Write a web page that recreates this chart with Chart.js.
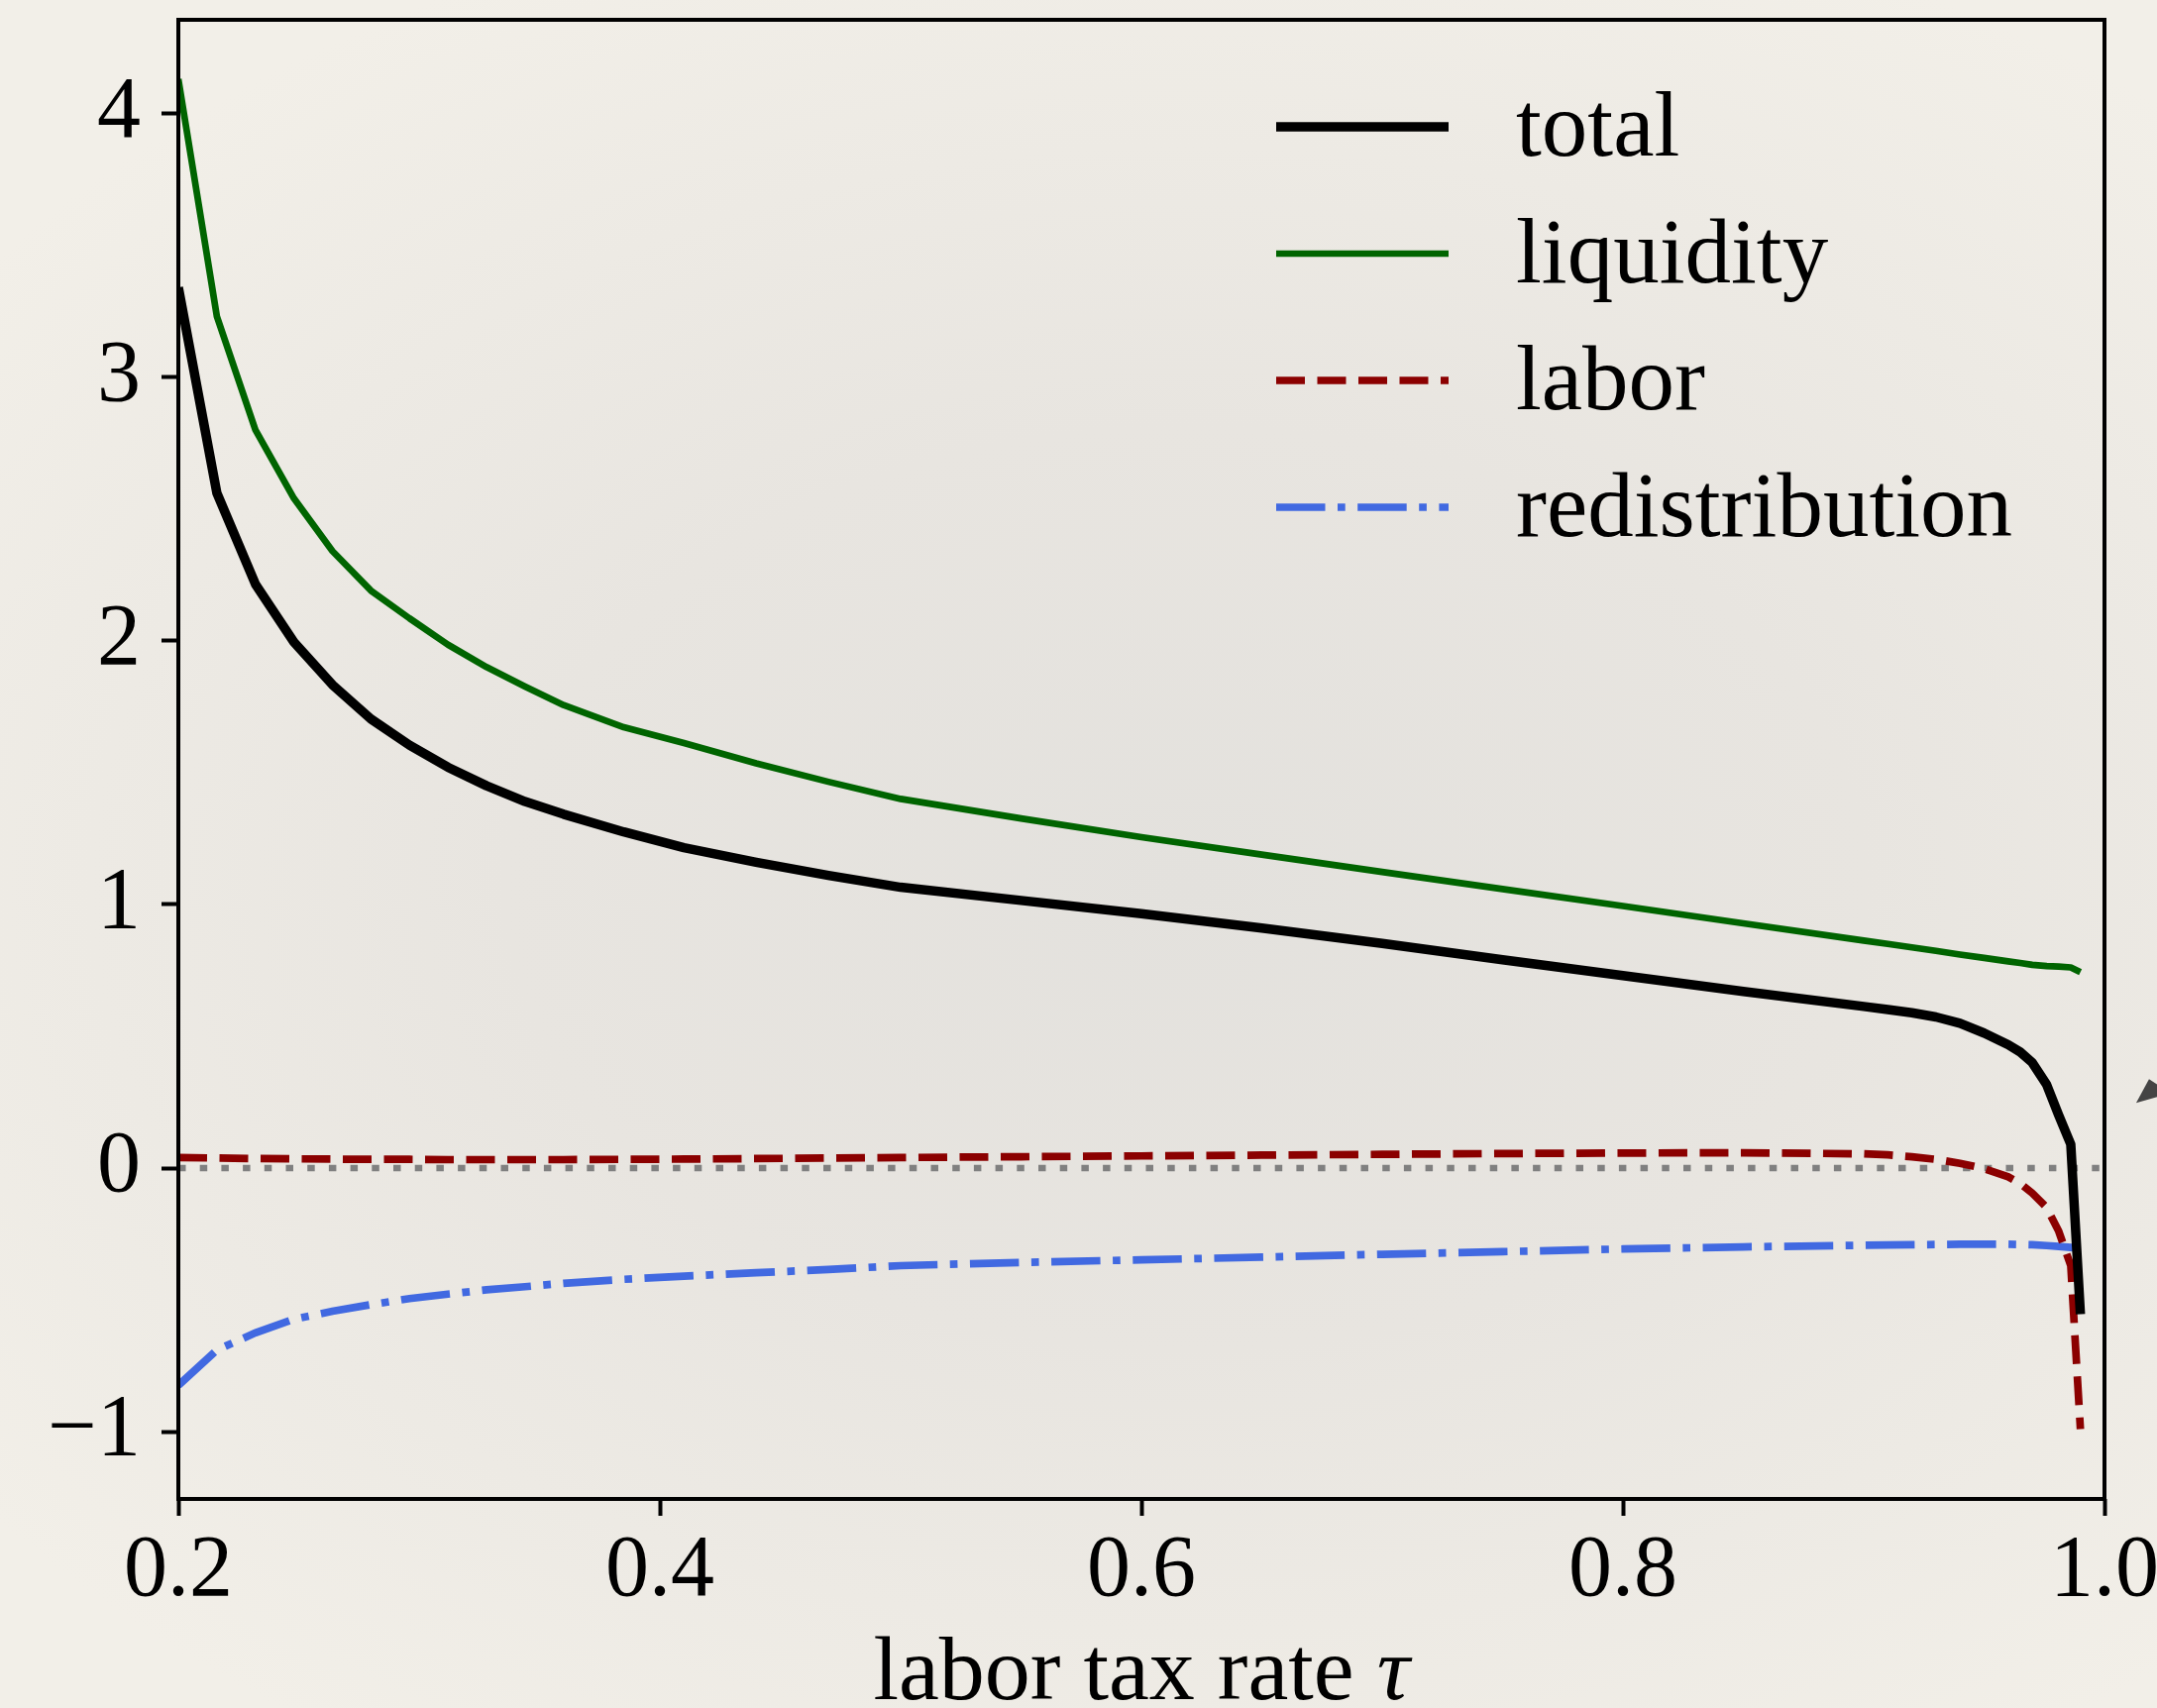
<!DOCTYPE html>
<html>
<head>
<meta charset="utf-8">
<script src="https://cdn.jsdelivr.net/npm/chart.js@4.4.1/dist/chart.umd.min.js"></script>
<style>
  html, body { margin: 0; padding: 0; overflow: hidden; }
  body {
    width: 2177px; height: 1724px;
    background: radial-gradient(ellipse 70% 60% at 55% 52%, #e3e1dd 0%, #e8e5e0 45%, #f2efe8 100%);
  }
  canvas { display: block; }
</style>
</head>
<body>
<canvas id="chart" width="2177" height="1724"></canvas>
<script>
/************** data ****************/
const tau = [0.2, 0.216, 0.232, 0.248, 0.264, 0.28, 0.296, 0.312, 0.328, 0.344, 0.36, 0.385, 0.41, 0.44, 0.47,
    0.5, 0.55, 0.6, 0.65, 0.7, 0.75, 0.8, 0.85, 0.9, 0.91, 0.92, 0.93, 0.94, 0.95, 0.96, 0.965, 0.97, 0.976, 0.981, 0.986, 0.99];

const total = [3.34, 2.56, 2.215, 1.995, 1.833, 1.703, 1.604, 1.52, 1.45, 1.39, 1.342, 1.275, 1.215, 1.16, 1.11,
    1.065, 1.015, 0.965, 0.91, 0.852, 0.79, 0.73, 0.67, 0.613, 0.601, 0.589, 0.573, 0.549, 0.512, 0.468, 0.44, 0.40, 0.316, 0.2, 0.09, -0.554];

const liquidity = [4.13, 3.23, 2.80, 2.54, 2.34, 2.19, 2.085, 1.985, 1.90, 1.826, 1.756, 1.672, 1.612, 1.535, 1.465,
    1.40, 1.326, 1.255, 1.189, 1.123, 1.058, 0.994, 0.928, 0.863, 0.85, 0.837, 0.824, 0.81, 0.797, 0.784, 0.778, 0.771, 0.766, 0.764, 0.761, 0.743];

const labor = [0.04, 0.038, 0.036, 0.035, 0.034, 0.033, 0.033, 0.032, 0.032, 0.032, 0.032, 0.033, 0.034, 0.036, 0.038,
    0.04, 0.043, 0.046, 0.049, 0.052, 0.055, 0.057, 0.058, 0.054, 0.05, 0.043, 0.033, 0.018, -0.002, -0.033, -0.058, -0.095, -0.15, -0.24, -0.37, -0.99];

const redistribution = [-0.824, -0.69, -0.625, -0.573, -0.543, -0.518, -0.495, -0.478, -0.462, -0.45, -0.437, -0.422, -0.41, -0.397, -0.385,
    -0.37, -0.358, -0.348, -0.338, -0.327, -0.317, -0.307, -0.299, -0.293, -0.292, -0.291, -0.29, -0.289, -0.289, -0.289, -0.29, -0.291, -0.294, -0.297, -0.301, -0.305];

const zeroLineX = [0.2, 1.0];
const zeroLineY = [0, 0];

// tip of the clipped arrowhead poking in from the right edge
const arrowX = [1.0185];
const arrowY = [0.337];

const xTicks = [0.2, 0.4, 0.6, 0.8, 1.0];
const yTicks = [-1, 0, 1, 2, 3, 4];

function toPoints(xs, ys) {
    return xs.map((x, i) => ({ x: x, y: ys[i] }));
}

/************** plugins ****************/
const serif = "'Liberation Serif', 'DejaVu Serif', serif";

const framePlugin = {
    id: "frame",
    afterDatasetsDraw(chart) {
        const { ctx, chartArea } = chart;
        ctx.save();
        ctx.strokeStyle = "#000";
        ctx.lineWidth = 4;
        ctx.setLineDash([]);
        ctx.strokeRect(chartArea.left, chartArea.top, chartArea.right - chartArea.left, chartArea.bottom - chartArea.top);
        ctx.restore();
    }
};

const arrowPlugin = {
    id: "arrowHead",
    afterDraw(chart) {
        const { ctx, scales } = chart;
        ctx.save();
        ctx.fillStyle = "#444444";
        arrowX.forEach((v, i) => {
            const px = scales.x.getPixelForValue(v);
            const py = scales.y.getPixelForValue(arrowY[i]);
            ctx.beginPath();
            ctx.moveTo(px, py);
            ctx.lineTo(px - 13, py + 24);
            ctx.lineTo(px + 22, py + 14);
            ctx.closePath();
            ctx.fill();
        });
        ctx.restore();
    }
};

const legendPlugin = {
    id: "paperLegend",
    afterDraw(chart) {
        const { ctx, chartArea } = chart;
        const lineStart = chartArea.left + 1108;
        const lineEnd = chartArea.left + 1282;
        const textX = chartArea.left + 1350;
        ctx.save();
        chart.data.datasets.slice(0, 4).forEach((ds, i) => {
            const y = chartArea.top + 108 + i * 128;
            ctx.beginPath();
            ctx.strokeStyle = ds.borderColor;
            ctx.lineWidth = ds.borderWidth;
            ctx.lineCap = "butt";
            ctx.setLineDash(ds.borderDash || []);
            ctx.moveTo(lineStart, y);
            ctx.lineTo(lineEnd, y);
            ctx.stroke();

            ctx.setLineDash([]);
            ctx.fillStyle = "#000";
            ctx.font = "93px " + serif;
            ctx.textAlign = "left";
            ctx.textBaseline = "alphabetic";
            ctx.fillText(ds.label, textX, y + 29);
        });
        ctx.restore();
    }
};

const xTitlePlugin = {
    id: "xTitle",
    afterDraw(chart) {
        const { ctx, chartArea } = chart;
        const plain = "labor tax rate ";
        const greek = "τ";
        ctx.save();
        ctx.fillStyle = "#000";
        ctx.textBaseline = "alphabetic";
        ctx.textAlign = "left";
        ctx.font = "92px " + serif;
        const w1 = ctx.measureText(plain).width;
        ctx.font = "italic 92px " + serif;
        const w2 = ctx.measureText(greek).width;
        const cx = (chartArea.left + chartArea.right) / 2;
        const x0 = cx - (w1 + w2) / 2;
        const y = chartArea.bottom + 202;
        ctx.font = "92px " + serif;
        ctx.fillText(plain, x0, y);
        ctx.font = "italic 92px " + serif;
        ctx.fillText(greek, x0 + w1, y);
        ctx.restore();
    }
};

/************** chart ****************/
const data = {
    datasets: [
        {
            label: "total",
            data: toPoints(tau, total),
            borderColor: "#000000",
            borderWidth: 9.5,
            borderJoinStyle: "round",
            pointRadius: 0,
            tension: 0
        },
        {
            label: "liquidity",
            data: toPoints(tau, liquidity),
            borderColor: "#006400",
            borderWidth: 6.7,
            borderJoinStyle: "round",
            pointRadius: 0,
            tension: 0
        },
        {
            label: "labor",
            data: toPoints(tau, labor),
            borderColor: "#8b0000",
            borderWidth: 7.7,
            borderDash: [29, 12.5],
            pointRadius: 0,
            tension: 0
        },
        {
            label: "redistribution",
            data: toPoints(tau, redistribution),
            borderColor: "#4169e1",
            borderWidth: 7.7,
            borderDash: [49.5, 12.5, 7.7, 12.5],
            pointRadius: 0,
            tension: 0
        },
        {
            label: "zero",
            data: toPoints(zeroLineX, zeroLineY),
            borderColor: "#808080",
            borderWidth: 6.7,
            borderDash: [7.5, 14.2],
            pointRadius: 0,
            tension: 0
        }
    ]
};

const tickFont = { family: serif, size: 88 };

const config = {
    type: "line",
    data: data,
    options: {
        responsive: false,
        animation: false,
        events: [],
        layout: { padding: { top: 20, right: 53, left: 0, bottom: 0 } },
        plugins: {
            legend: { display: false },
            tooltip: { enabled: false },
            title: { display: false }
        },
        scales: {
            x: {
                type: "linear",
                min: 0.2,
                max: 1.0,
                afterBuildTicks(scale) {
                    scale.ticks = xTicks.map(v => ({ value: v }));
                },
                afterFit(scale) {
                    scale.height = 211;
                    scale.paddingLeft = 0;
                    scale.paddingRight = 0;
                },
                border: { display: false },
                grid: {
                    drawOnChartArea: false,
                    drawTicks: true,
                    tickLength: 17,
                    tickWidth: 4,
                    tickColor: "#000"
                },
                ticks: {
                    color: "#000",
                    font: tickFont,
                    padding: 4,
                    maxRotation: 0,
                    autoSkip: false,
                    callback: (v) => Number(v).toFixed(1)
                }
            },
            y: {
                type: "linear",
                min: -1.255,
                max: 4.355,
                afterBuildTicks(scale) {
                    scale.ticks = yTicks.map(v => ({ value: v }));
                },
                afterFit(scale) {
                    scale.width = 180;
                    scale.paddingTop = 0;
                    scale.paddingBottom = 0;
                },
                border: { display: false },
                grid: {
                    drawOnChartArea: false,
                    drawTicks: true,
                    tickLength: 17,
                    tickWidth: 4,
                    tickColor: "#000"
                },
                ticks: {
                    color: "#000",
                    font: tickFont,
                    padding: 21,
                    autoSkip: false,
                    callback: (v) => v < 0 ? "\u2212" + Math.abs(v) : String(v)
                }
            }
        }
    },
    plugins: [framePlugin, arrowPlugin, legendPlugin, xTitlePlugin]
};

const myChart = new Chart(document.getElementById("chart"), config);
</script>
</body>
</html>
